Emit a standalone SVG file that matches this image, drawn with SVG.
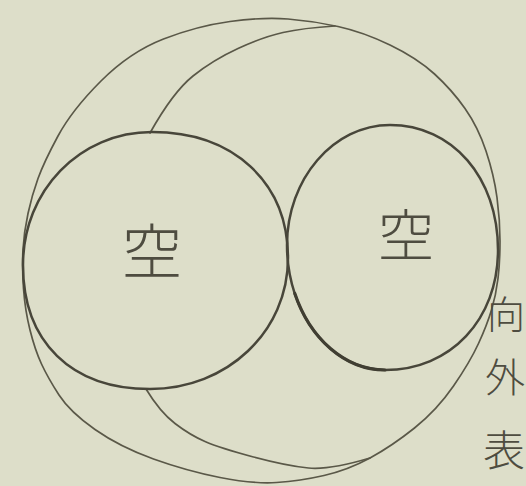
<svg xmlns="http://www.w3.org/2000/svg" width="526" height="486" viewBox="0 0 526 486">
  <style>
    .thin { fill: none; stroke: #5a5848; stroke-width: 1.7; stroke-linecap: round; stroke-linejoin: round; }
    .bold { fill: none; stroke: #48463a; stroke-width: 2.5; stroke-linecap: round; stroke-linejoin: round; }
    .heavy { fill: none; stroke: #403e32; stroke-width: 3.2; stroke-linecap: round; }
    .lbl { font-family: "Noto Sans CJK JP", "Noto Sans CJK SC", sans-serif; fill: #4e4c40; font-weight: 300; text-anchor: middle; }
  </style>
  <rect x="0" y="0" width="526" height="486" fill="#dddec9"/>

  <g id="outer">
    <path class="thin" d="M230,21.5 Q263,17 288,19 Q313,21 338,26.5 Q363,32 390,45 Q417,58 434.5,74 Q452,90 465,108.5 Q478,127 486,151 Q494,175 497,197.5 Q500,220 500,241 Q500,262 498,278.5 Q496,295 491.5,310 Q487,325 478.5,343.5 Q470,362 453.5,386 Q437,410 414.5,428 Q392,446 370,458 Q348,470 324,475.5 Q300,481 276.5,482.5 Q253,484 220,477.5 Q187,471 153.5,459 Q120,447 95,429.5 Q70,412 59,395 Q48,378 41.5,364 Q35,350 30,330 Q25,310 23.5,288.5 Q22,267 23,249.5 Q24,232 28,213.5 Q32,195 38,178.5 Q44,162 58,136 Q72,110 101,81 Q130,52 163.5,39 Q197,26 230,21.5 Z"/>
  </g>

  <g id="inner-shell">
    <path class="thin" d="M335,26 Q303,28 283,32.5 Q263,37 238,48.5 Q213,60 193,76 Q173,92 150,133"/>
    <path class="thin" d="M146,389 Q160,412 175,423.5 Q190,435 205,441.5 Q220,448 253.5,457 Q287,466 308.5,468 Q330,470 370,458"/>
  </g>

  <g id="left-cavity">
    <path class="bold" d="M152,132 C233.6,132 288,182.4 288,258 C288,331.4 227.3,389 150,389 C71.3,389 23,341.9 23,265 C23,190.5 79.8,132 152,132 Z"/>
    <text class="lbl" x="152" y="274" font-size="60">空</text>
  </g>

  <g id="right-cavity">
    <path class="bold" d="M390,125 C452.6,125 498,177.5 498,250 C498,319.6 450.5,370 385,370 C331.1,370 287,313.75 287,245 C287,179 333.4,125 390,125 Z"/>
    <path class="heavy" d="M385,370 C344.6,370 309.9,338.3 294.8,293.5"/>
    <text class="lbl" x="406" y="256" font-size="56">空</text>
  </g>

  <g id="side-note">
    <text class="lbl" x="506" y="328" font-size="38">向</text>
    <text class="lbl" x="505" y="392" font-size="40">外</text>
    <text class="lbl" x="504" y="466" font-size="42">表</text>
  </g>
</svg>
